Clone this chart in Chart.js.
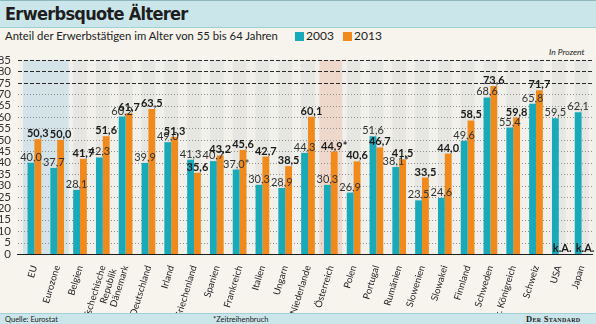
<!DOCTYPE html>
<html lang="de">
<head>
<meta charset="utf-8">
<title>Erwerbsquote Älterer</title>
<script src="https://cdn.jsdelivr.net/npm/chart.js@4.4.0/dist/chart.umd.min.js"></script>
<style>
  html, body { margin: 0; padding: 0; }
  body {
    width: 596px; height: 324px; position: relative; overflow: hidden;
    background: #f6f4ed; font-family: Lato, "Open Sans", sans-serif; color: #222;
  }
  #head {
    position: absolute; left: 0; top: 0; width: 596px; height: 26px;
    background: #cbe6ea; border-top: 1px solid #8fb7be; border-bottom: 1px solid #a3cfd6;
  }
  #head h1 {
    margin: 0; position: absolute; left: 5px; top: 2px;
    font: bold 18px "DejaVu Sans Condensed", "DejaVu Sans", sans-serif; letter-spacing: -0.7px; color: #1e1e1e;
  }
  #sub { position: absolute; left: 5px; top: 29px; font-size: 11.3px; line-height: 14px; }
  .key { position: absolute; top: 29px; font-size: 12px; line-height: 14px; }
  .key i { display: inline-block; width: 9px; height: 9px; margin-right: 2px; vertical-align: -1px; }
  #unit { position: absolute; left: 549px; top: 47px; font-size: 8.5px; font-style: italic; }
  #foot {
    position: absolute; left: 0; top: 313px; width: 596px; height: 11px;
    background: #cbe6ea; border-top: 1px solid #a3cfd6; font-size: 7.5px; line-height: 11px;
  }
  #foot span { position: absolute; top: 0; }
  #brand { font: bold 8.5px "Liberation Serif", "DejaVu Serif", serif; font-variant: small-caps; letter-spacing: 0.3px; }
  #chart { position: absolute; left: 0; top: 0; }
</style>
</head>
<body>
<div id="head"><h1>Erwerbsquote Älterer</h1></div>
<div id="sub">Anteil der Erwerbstätigen im Alter von 55 bis 64 Jahren</div>
<div class="key" style="left:295px"><i style="background:#19aab9"></i>2003</div>
<div class="key" style="left:343px"><i style="background:#f08a1d"></i>2013</div>
<div id="unit">In Prozent</div>
<div id="foot">
  <span style="left:5px">Quelle: Eurostat</span>
  <span style="left:213px">*Zeitreihenbruch</span>
  <span id="brand" style="left:526px">Der Standard</span>
</div>
<canvas id="chart" width="596" height="324"></canvas>

<script>
const categories = [
  'EU', 'Eurozone', 'Belgien', ['Tschechische', 'Republik'], 'Dänemark', 'Deutschland',
  'Irland', 'Griechenland', 'Spanien', 'Frankreich', 'Italien', 'Ungarn', 'Niederlande',
  'Österreich', 'Polen', 'Portugal', 'Rumänien', 'Slowenien', 'Slowakei', 'Finnland',
  'Schweden', 'Ver. Königreich', 'Schweiz', 'USA', 'Japan'
];
const values2003 = [
  40.0, 37.7, 28.1, 42.3, 60.2, 39.9, 49.0, 41.3, 40.7, 37.0, 30.3, 28.9, 44.3,
  30.3, 26.9, 51.6, 38.1, 23.5, 24.6, 49.6, 68.6, 55.4, 65.8, 59.5, 62.1
];
const values2013 = [
  50.3, 50.0, 41.7, 51.6, 61.7, 63.5, 51.3, 35.6, 43.2, 45.6, 42.7, 38.5, 60.1,
  44.9, 40.6, 46.7, 41.5, 33.5, 44.0, 58.5, 73.6, 59.8, 71.7, null, null
];
// series breaks, marked with an asterisk
const breaks2003 = ['Frankreich', 'Rumänien'];
const breaks2013 = ['Österreich'];
// highlighted columns: aggregates and Austria
const blueColumns = ['EU', 'Eurozone'];
const redColumns = ['Österreich'];
const yMin = 0, yMax = 85, yStep = 5;
const dashedFrom = 75;

const teal = '#19aab9';
const orange = '#f08a1d';

const catName = (c) => Array.isArray(c) ? c.join(' ') : c;

const fmt = function (v, starred) {
  if (v === null) return 'k.A.';
  return v.toFixed(1).replace('.', ',') + (starred ? '*' : '');
};

//plot background, highlighted columns and the horizontal grid
const backdrop = {
  id: 'backdrop',
  beforeDatasetsDraw(chart) {
    const { ctx, chartArea: area, scales: { x, y } } = chart;
    const step = x.getPixelForValue(1) - x.getPixelForValue(0);
    const top = y.getPixelForValue(yMax);
    const h = y.getPixelForValue(yMin) - top;
    ctx.save();
    ctx.fillStyle = '#e6e6e2';
    ctx.fillRect(area.left, top, area.right - area.left, h);
    //lighter stripes between the groups
    ctx.fillStyle = '#f1f0eb';
    for (let i = 0; i <= categories.length; i++) {
      const cx = x.getPixelForValue(i) - step / 2;
      ctx.fillRect(cx - step * 0.2, top, step * 0.4, h);
    }
    const shade = function (names, colour) {
      const idx = names.map((n) => categories.findIndex((c) => catName(c) === n));
      const x0 = x.getPixelForValue(Math.min(...idx)) - step / 2;
      const x1 = x.getPixelForValue(Math.max(...idx)) + step / 2;
      ctx.fillStyle = colour;
      ctx.fillRect(x0, top, x1 - x0, h);
    };
    shade(blueColumns, '#d3e3e7');
    shade(redColumns, '#eed8cc');

    for (let v = yMin + yStep; v <= yMax; v += yStep) {
      const py = Math.round(y.getPixelForValue(v)) + 0.5;
      ctx.beginPath();
      if (v >= dashedFrom) {
        ctx.strokeStyle = '#2a2a2a';
        ctx.setLineDash([4, 2]);
      } else {
        ctx.strokeStyle = '#8e8e8e';
        ctx.setLineDash([1, 2]);
      }
      ctx.lineWidth = 1;
      ctx.moveTo(area.left - 5, py);
      ctx.lineTo(area.right, py);
      ctx.stroke();
    }
    ctx.restore();
  },
  afterDatasetsDraw(chart) {
    const { ctx, chartArea: area, scales: { y } } = chart;
    const py = Math.round(y.getPixelForValue(yMin)) + 0.5;
    ctx.save();
    ctx.strokeStyle = '#1e1e1e';
    ctx.lineWidth = 1.2;
    ctx.beginPath();
    ctx.moveTo(area.left - 6, py);
    ctx.lineTo(area.right, py);
    ctx.stroke();
    ctx.restore();
  }
};

//value labels over the bars
const valueLabels = {
  id: 'valueLabels',
  afterDatasetsDraw(chart) {
    const { ctx, scales: { y } } = chart;
    ctx.save();
    ctx.textAlign = 'center';
    ctx.textBaseline = 'alphabetic';
    chart.data.datasets.forEach((ds, d) => {
      const meta = chart.getDatasetMeta(d);
      const breaks = d === 0 ? breaks2003 : breaks2013;
      meta.data.forEach((bar, i) => {
        const v = ds.data[i];
        const text = fmt(v, breaks.includes(catName(categories[i])));
        ctx.font = d === 0 ? '11px Lato' : 'bold 11px Lato';
        ctx.fillStyle = d === 0 ? '#333' : '#1a1a1a';
        const base = v === null ? y.getPixelForValue(yMin) - 2 : bar.y - 2;
        ctx.fillText(text, bar.x, base);
      });
    });
    ctx.restore();
  }
};

new Chart(document.getElementById('chart'), {
  type: 'bar',
  data: {
    labels: categories,
    datasets: [
      { label: '2003', data: values2003, backgroundColor: teal, borderWidth: 0 },
      { label: '2013', data: values2013, backgroundColor: orange, borderWidth: 0 }
    ]
  },
  options: {
    responsive: false,
    animation: false,
    layout: { padding: { top: 60, left: 0, right: 3, bottom: 11 } },
    datasets: { bar: { categoryPercentage: 0.6, barPercentage: 1.0 } },
    plugins: {
      legend: { display: false },
      tooltip: { enabled: false }
    },
    scales: {
      x: {
        grid: { display: false },
        border: { display: false },
        ticks: {
          autoSkip: false, minRotation: 73, maxRotation: 73, padding: 2,
          color: '#222', font: { family: 'Lato', size: 9.5 }
        },
        afterFit(scale) { scale.height = 59; }
      },
      y: {
        min: yMin, max: yMax,
        grid: { display: false },
        border: { display: false },
        ticks: {
          autoSkip: false, stepSize: yStep, padding: 4, color: '#333',
          font: { family: 'Lato', size: 11.5 }
        },
        afterFit(scale) { scale.width = 23; }
      }
    }
  },
  plugins: [backdrop, valueLabels]
});
</script>
</body>
</html>
